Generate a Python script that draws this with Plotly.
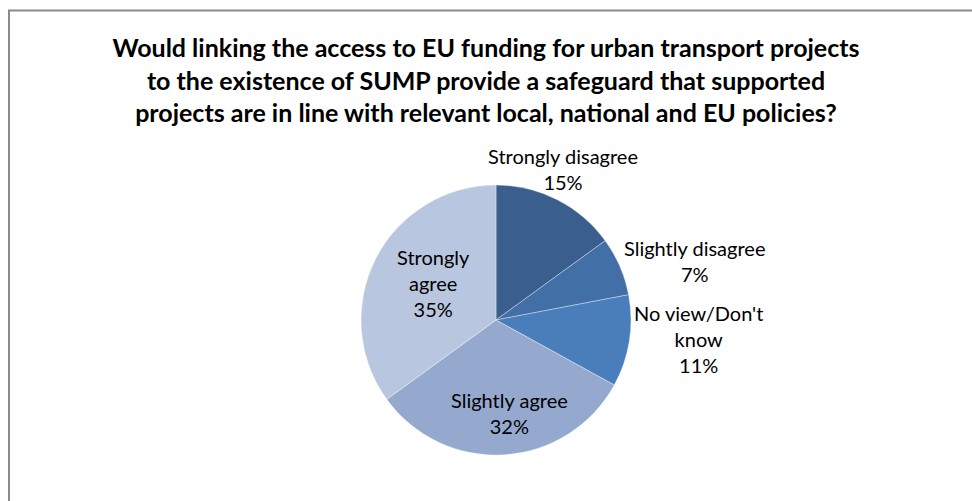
import plotly.graph_objects as go

categories = ["Strongly disagree", "Slightly disagree", "No view/Don't know", "Slightly agree", "Strongly agree"]
label_text = ["Strongly disagree", "Slightly disagree", "No view/Don't<br>know", "Slightly agree", "Strongly<br>agree"]
values = [15, 7, 11, 32, 35]
colors = ["#3A5F8E", "#416FA6", "#4A7EBB", "#95A9CF", "#B9C6DF"]
title = ("Would linking the access to EU funding for urban transport projects<br>"
         "to the existence of SUMP provide a safeguard that supported<br>"
         "projects are in line with relevant local, national and EU policies?")

W, H = 972, 501
cx, cy, r = 496, 320, 135

# label centres in pixels (layout only)
label_pos = [(563, 169), (694, 261), (698, 339), (509, 413), (433, 283)]

fig = go.Figure(go.Pie(
    labels=categories,
    values=values,
    textinfo="none",
    sort=False,
    direction="clockwise",
    rotation=0,
    marker=dict(colors=colors, line=dict(color="rgba(255,255,255,0.5)", width=0.7)),
    domain=dict(x=[(cx - r) / W, (cx + r) / W], y=[1 - (cy + r) / H, 1 - (cy - r) / H]),
    showlegend=False,
    hoverinfo="label+percent",
))

total = sum(values)
annotations = []
for txt, v, (px, py) in zip(label_text, values, label_pos):
    annotations.append(dict(
        text=f"{txt}<br>{round(100 * v / total)}%",
        x=px / W, y=1 - py / H, xref="paper", yref="paper",
        xanchor="center", yanchor="middle", showarrow=False, align="center",
        font=dict(family="Lato", size=20, color="#000000"),
    ))

fig.update_layout(
    width=W, height=H,
    margin=dict(l=0, r=0, t=0, b=0),
    paper_bgcolor="white",
    title=dict(text="<b>" + title + "</b>", x=0.5, xanchor="center", y=1 - 57 / H, yanchor="middle",
               font=dict(family="Lato", size=25, color="#000000")),
    annotations=annotations,
    shapes=[dict(type="rect", xref="paper", yref="paper", x0=9 / W, x1=1.02, y0=-0.02, y1=1 - 10.5 / H,
                 line=dict(color="#8A8A8A", width=2), fillcolor="rgba(0,0,0,0)", layer="below")],
)

fig.write_html("out.html")
